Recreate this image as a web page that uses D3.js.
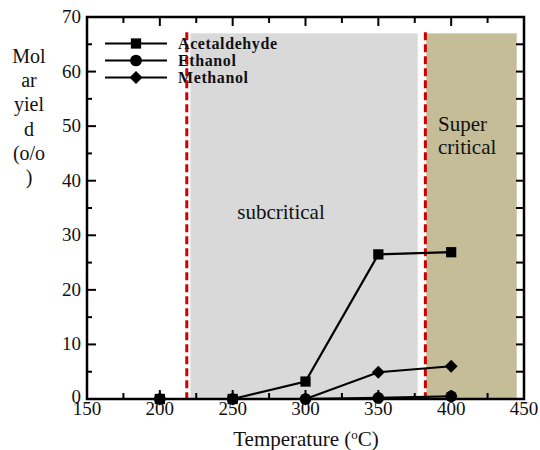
<!DOCTYPE html>
<html>
<head>
<meta charset="utf-8">
<script src="https://cdn.jsdelivr.net/npm/d3@7"></script>
<style>
  body { margin: 0; background: #fff; }
  svg text { font-family: "Liberation Serif", "Times New Roman", serif; fill: #111; }
</style>
</head>
<body>
<svg id="chart" width="540" height="450"></svg>
<script>
// Reaction temperatures (°C)
const temperatures = [200, 250, 300, 350, 400];
// Molar yields (%) per product
const acetaldehyde = [0, 0, 3.2, 26.5, 26.9];
const ethanol = [0, 0, 0, 0.2, 0.5];
const methanol = [0, 0, 0, 4.9, 6.0];
const seriesNames = ["Acetaldehyde", "Ethanol", "Methanol"];
const seriesShapes = ["square", "circle", "diamond"];
// Temperature regimes
const subcriticalRange = [221, 377];
const supercriticalRange = [383, 445];
const regimeTop = 67;
const criticalLines = [218.5, 382.3];
// Axis ticks
const xTicks = [150, 200, 250, 300, 350, 400, 450];
const yTicks = [0, 10, 20, 30, 40, 50, 60, 70];
const yLabelLines = ["Mol", "ar", "yiel", "d", "(o/o", ")"];

const svg = d3.select("#chart");
const plotL = 87, plotR = 524, plotT = 17, plotB = 399;
const x = d3.scaleLinear().domain([150, 450]).range([plotL, plotR]);
const y = d3.scaleLinear().domain([0, 70]).range([plotB, plotT]);

// Regime shading
svg.append("rect")
  .attr("x", x(subcriticalRange[0])).attr("y", y(regimeTop))
  .attr("width", x(subcriticalRange[1]) - x(subcriticalRange[0]))
  .attr("height", y(0) - y(regimeTop))
  .attr("fill", "#d9d9d9");
svg.append("rect")
  .attr("x", x(supercriticalRange[0])).attr("y", y(regimeTop))
  .attr("width", x(supercriticalRange[1]) - x(supercriticalRange[0]))
  .attr("height", y(0) - y(regimeTop))
  .attr("fill", "#c4bd98");

// Critical-point dashed lines
svg.selectAll("line.crit").data(criticalLines).enter().append("line")
  .attr("class", "crit")
  .attr("x1", d => x(d)).attr("x2", d => x(d))
  .attr("y1", y(regimeTop) - 1).attr("y2", y(0))
  .attr("stroke", "#d00000").attr("stroke-width", 3)
  .attr("stroke-dasharray", "8,4");

// Regime labels
svg.append("text").attr("x", 281).attr("y", 219)
  .attr("text-anchor", "middle").attr("font-size", 21).text("subcritical");
svg.append("text").attr("x", 438).attr("y", 131)
  .attr("font-size", 21).text("Super");
svg.append("text").attr("x", 438).attr("y", 154)
  .attr("font-size", 21).text("critical");

// Axes (ticks point inward on all four sides)
const ax = svg.append("g").attr("stroke", "#000");
const xMinor = d3.range(150, 451, 25);
xMinor.forEach(v => {
  const major = v % 50 === 0;
  ax.append("line").attr("x1", x(v)).attr("x2", x(v))
    .attr("y1", plotB).attr("y2", plotB - (major ? 9 : 6)).attr("stroke-width", 2);
  ax.append("line").attr("x1", x(v)).attr("x2", x(v))
    .attr("y1", plotT).attr("y2", plotT + (major ? 9 : 6)).attr("stroke-width", 2);
});
const yMinor = d3.range(0, 71, 5);
yMinor.forEach(v => {
  const major = v % 10 === 0;
  ax.append("line").attr("x1", plotL).attr("x2", plotL + (major ? 9 : 5))
    .attr("y1", y(v)).attr("y2", y(v)).attr("stroke-width", 2);
  ax.append("line").attr("x1", plotR).attr("x2", plotR - 8)
    .attr("y1", y(v)).attr("y2", y(v)).attr("stroke-width", 2);
});
svg.append("rect").attr("x", plotL).attr("y", plotT)
  .attr("width", plotR - plotL).attr("height", plotB - plotT)
  .attr("fill", "none").attr("stroke", "#000").attr("stroke-width", 2.5);

svg.selectAll("text.xt").data(xTicks).enter().append("text")
  .attr("class", "xt").attr("x", d => x(d)).attr("y", plotB + 16)
  .attr("text-anchor", "middle").attr("font-size", 19).text(d => d);
svg.selectAll("text.yt").data(yTicks).enter().append("text")
  .attr("class", "yt").attr("x", plotL - 6).attr("y", d => y(d) + (d === 0 ? 4 : 6))
  .attr("text-anchor", "end").attr("font-size", 19).text(d => d);

// Axis titles
const xt = svg.append("text").attr("x", 306).attr("y", 446)
  .attr("text-anchor", "middle").attr("font-size", 21);
xt.append("tspan").text("Temperature (");
xt.append("tspan").attr("baseline-shift", "super").attr("font-size", 13).text("o");
xt.append("tspan").text("C)");
svg.selectAll("text.yl").data(yLabelLines).enter().append("text")
  .attr("class", "yl").attr("x", 29).attr("y", (d, i) => 63 + i * 24.2)
  .attr("text-anchor", "middle").attr("font-size", 20).text(d => d);

// Series
const seriesData = [acetaldehyde, ethanol, methanol];
const squareSym = d3.symbol().type(d3.symbolSquare).size(105);
const circleSym = d3.symbol().type(d3.symbolCircle).size(108);
const diamondSym = d3.symbol().type(d3.symbolSquare).size(84); // rotated 45°
const markerPath = { square: squareSym, circle: circleSym, diamond: diamondSym };
const markerRot = { square: 0, circle: 0, diamond: 45 };
const line = d3.line().x(d => x(d[0])).y(d => y(d[1]));
// acetaldehyde first, then methanol, ethanol on top
[0, 2, 1].forEach(i => {
  const pts = temperatures.map((t, j) => [t, seriesData[i][j]]);
  svg.append("path").attr("d", line(pts)).attr("fill", "none")
    .attr("stroke", "#000").attr("stroke-width", 2.2);
  const shape = seriesShapes[i];
  svg.selectAll(null).data(pts).enter().append("path")
    .attr("transform", d => `translate(${x(d[0])},${y(d[1])}) rotate(${markerRot[shape]})`)
    .attr("d", markerPath[shape]())
    .attr("fill", "#000");
});

// Legend
const legY = [43.5, 60.5, 77.5];
seriesNames.forEach((name, i) => {
  const g = svg.append("g");
  g.append("line").attr("x1", 105).attr("x2", 167)
    .attr("y1", legY[i]).attr("y2", legY[i]).attr("stroke", "#000").attr("stroke-width", 2.2);
  const shape = seriesShapes[i];
  g.append("path").attr("transform", `translate(136,${legY[i]}) rotate(${markerRot[shape]})`)
    .attr("d", markerPath[shape]())
    .attr("fill", "#000");
  g.append("text").attr("x", 178).attr("y", legY[i] + 5)
    .attr("font-size", 16).attr("font-weight", "bold")
    .attr("letter-spacing", 0.6).text(name);
});
</script>
</body>
</html>
